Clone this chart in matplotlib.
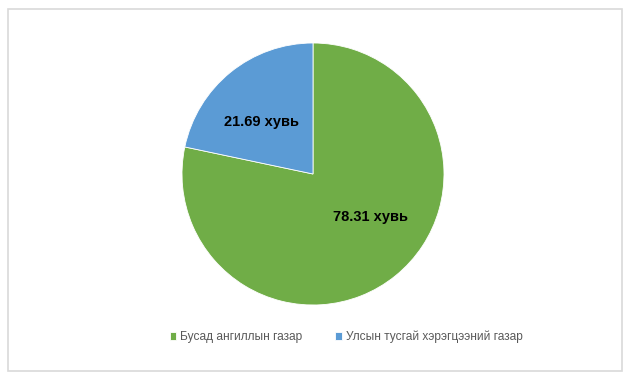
import matplotlib.pyplot as plt
from matplotlib.patches import Rectangle

plt.rcParams['font.family'] = ['Liberation Sans', 'DejaVu Sans']

# Data
labels = ['Бусад ангиллын газар', 'Улсын тусгай хэрэгцээний газар']
values = [78.31, 21.69]
colors = ['#70AD47', '#5B9BD5']

W, H = 631, 383
fig = plt.figure(figsize=(W / 100, H / 100), dpi=100)

# light gray chart border
fig.patches.append(Rectangle((8 / W, 1 - 371 / H), 614 / W, 362 / H,
                             transform=fig.transFigure, fill=False,
                             edgecolor='#D9D9D9', linewidth=1.2))

# pie axes: centre (313, 174) px, radius 131 px
cx, cy, r = 313, 174, 131
ax = fig.add_axes([(cx - r) / W, 1 - (cy + r) / H, 2 * r / W, 2 * r / H])
wedges, _ = ax.pie(values, colors=colors, startangle=90, counterclock=False,
                   radius=1, wedgeprops=dict(edgecolor='white', linewidth=0.6))
ax.set_xlim(-1, 1)
ax.set_ylim(-1, 1)
ax.set_aspect('equal')
ax.axis('off')

# value labels (placed like the Excel chart)
label_pos = [(0.44, -0.33), (-0.39, 0.40)]
for v, (x, y) in zip(values, label_pos):
    ax.text(x, y, f'{v:.2f} хувь', ha='center', va='center',
            fontsize=10.5, fontweight='bold', color='black')

leg = fig.legend(wedges, labels, loc='center', bbox_to_anchor=(346 / W, 1 - 337 / H),
                 ncol=2, frameon=False, fontsize=8.6, handlelength=0.55,
                 handleheight=0.55, handletextpad=0.3, columnspacing=2.8)
for t in leg.get_texts():
    t.set_color('#595959')

fig.savefig('out.png', dpi=100)
